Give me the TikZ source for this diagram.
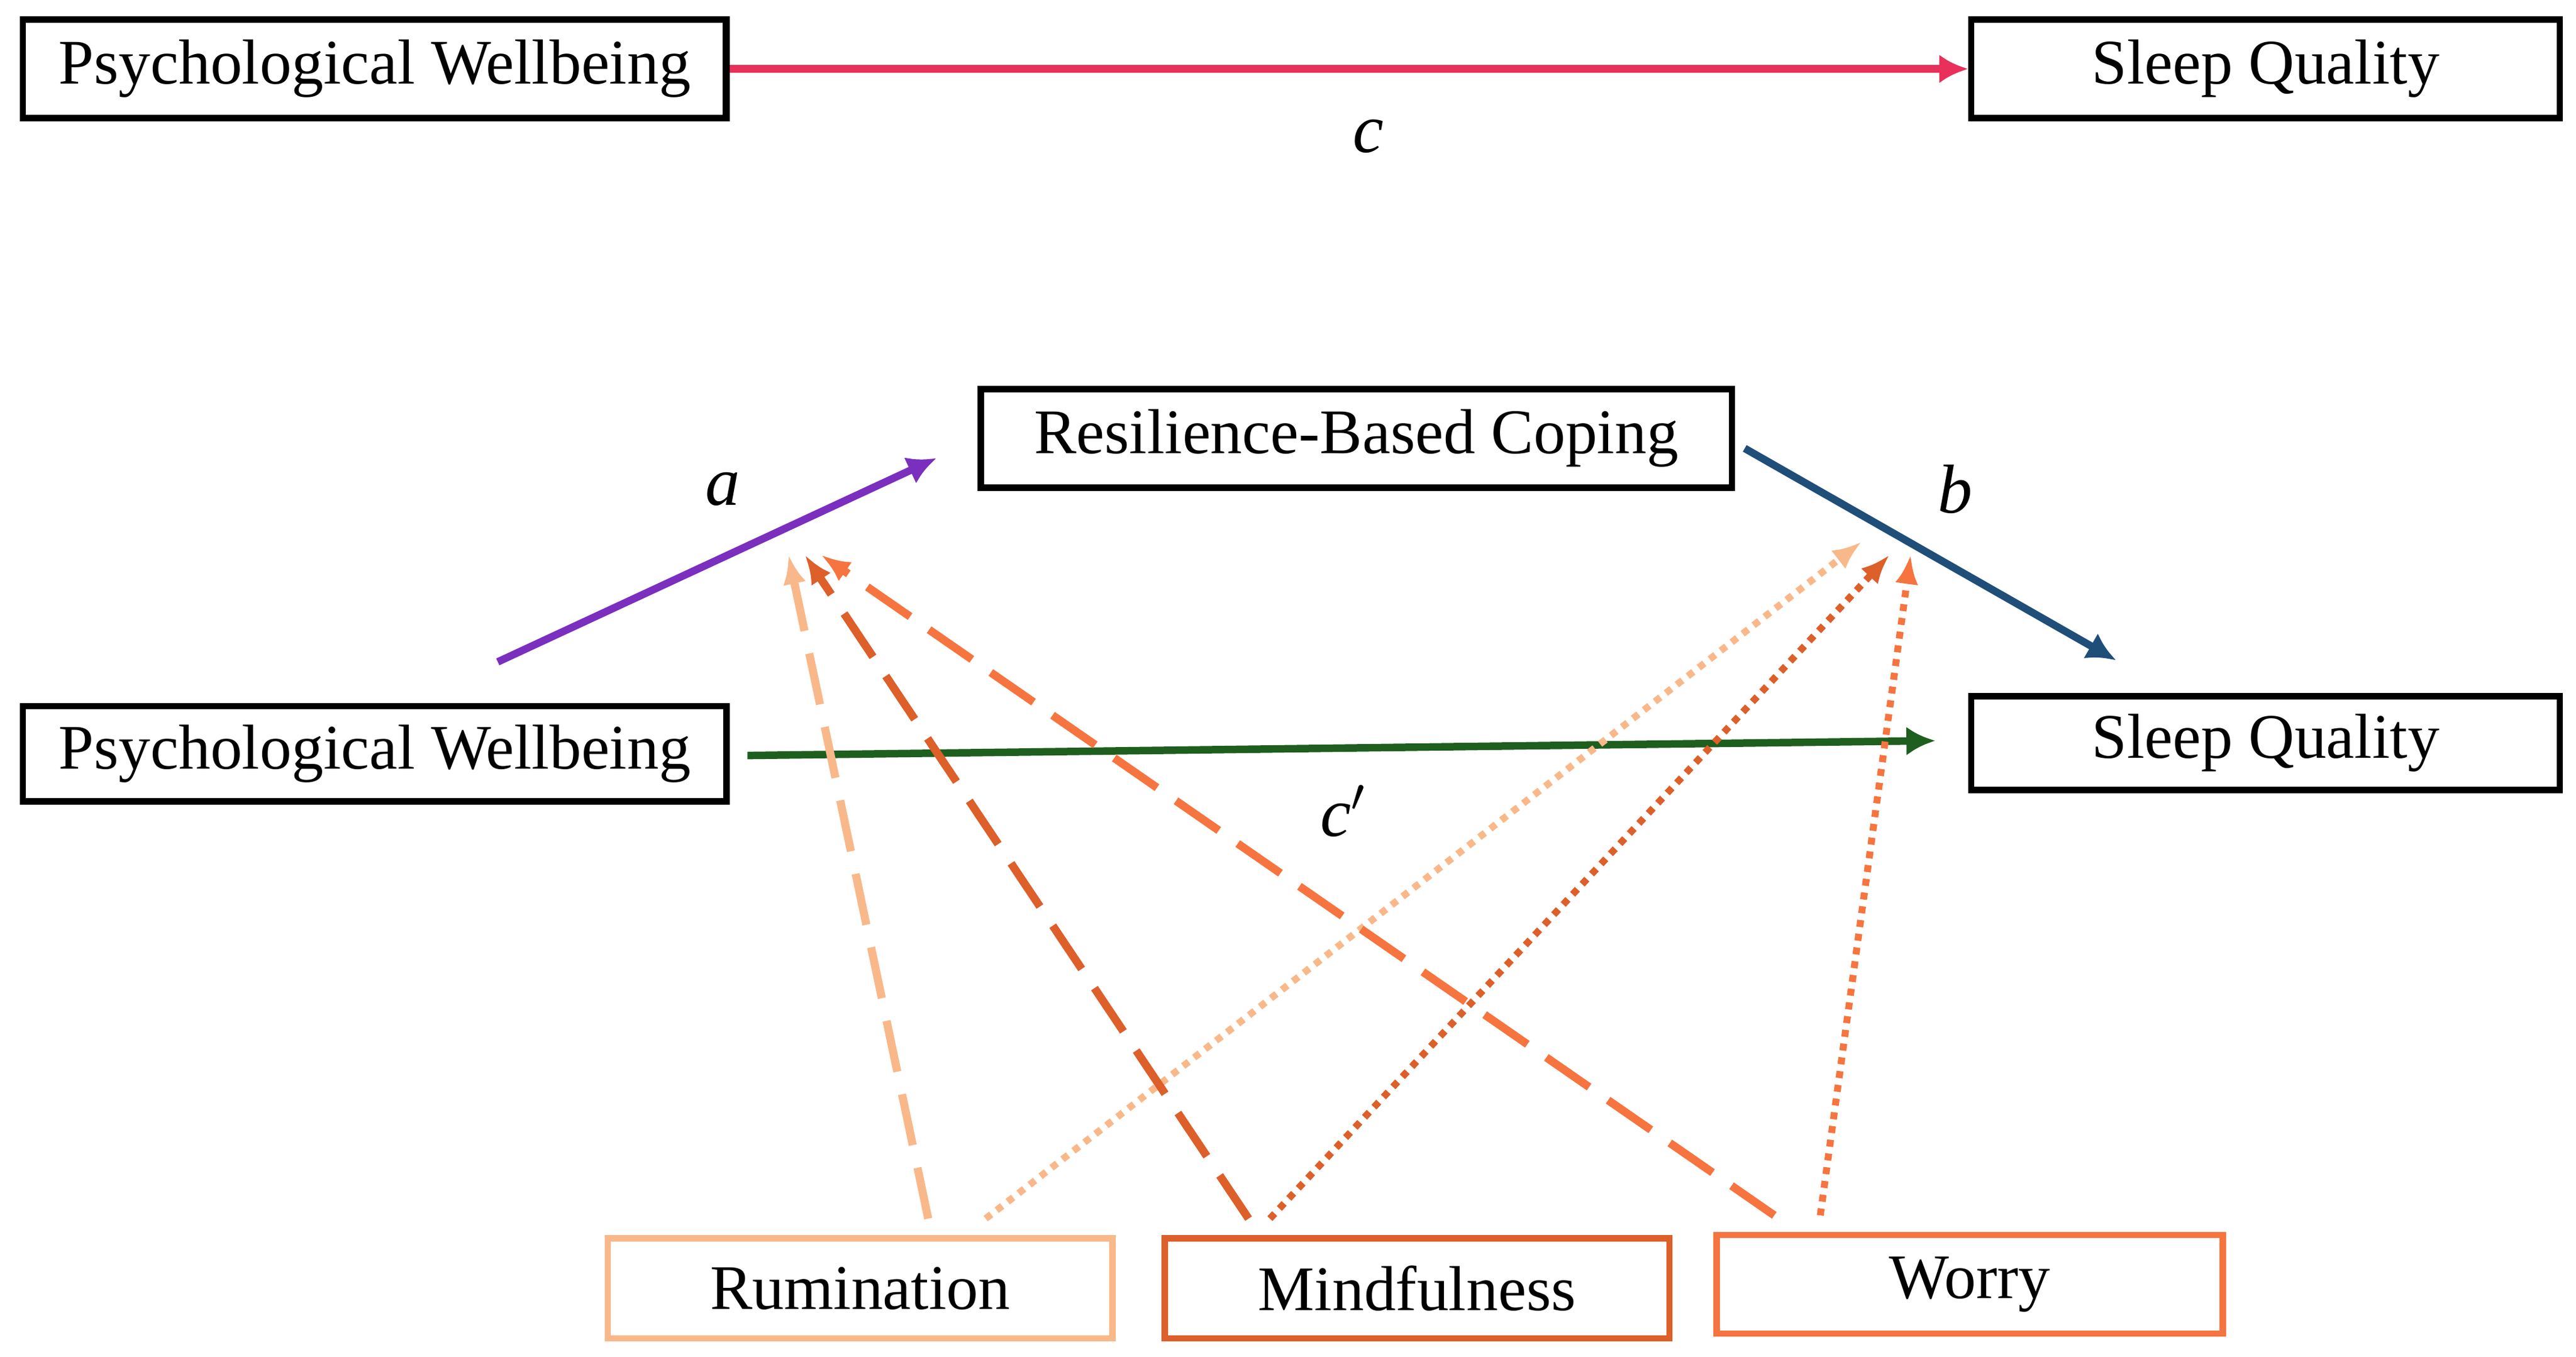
\documentclass[tikz,border=0pt]{standalone}
\usepackage{fontspec}
\setmainfont{Liberation Serif}
\begin{document}
\begin{tikzpicture}[x=0.01cm,y=-0.01cm,
  box/.style={draw,line width=1.1pt,inner sep=0pt,anchor=north west,font=\fontsize{11}{13}\selectfont},
  lab/.style={font=\fontsize{12}{14}\selectfont\itshape},
  arr/.style={line width=1.3pt,-{Latex[length=5pt,width=5pt]}},
  dsh/.style={line width=1.4pt,dash pattern=on 9pt off 4pt,-{Latex[length=5pt,width=4pt]}},
  dot/.style={line width=1.2pt,dash pattern=on 1.2pt off 1.2pt,-{Latex[length=5pt,width=4pt]}}]
\usetikzlibrary{arrows.meta}
\definecolor{cpink}{HTML}{E8305A}
\definecolor{cpurp}{HTML}{7B2FBE}
\definecolor{cblue}{HTML}{1F4E79}
\definecolor{cgreen}{HTML}{1E5E1E}
\definecolor{crum}{HTML}{F9B88A}
\definecolor{cmind}{HTML}{DD5F2A}
\definecolor{cwor}{HTML}{F6743F}
\useasboundingbox (0,0) rectangle (1568,826);
\node[box,minimum width=428\pgflinewidth/\pgflinewidth*0.01cm,minimum height=0.6cm] (pw1) at (12,10) {};
\node[box,minimum width=4.28cm,minimum height=0.6cm] (pw1) at (12,10) {Psychological Wellbeing};
\node[box,minimum width=3.58cm,minimum height=0.6cm] (sq1) at (1198,10) {Sleep Quality};
\node[box,minimum width=4.57cm,minimum height=0.6cm] (rbc) at (595,235) {Resilience-Based Coping};
\node[box,minimum width=4.28cm,minimum height=0.58cm] (pw2) at (12,428) {Psychological Wellbeing};
\node[box,minimum width=3.58cm,minimum height=0.57cm] (sq2) at (1198,422) {Sleep Quality};
\node[box,draw=crum,minimum width=3.07cm,minimum height=0.61cm] (rum) at (368,752) {Rumination};
\node[box,draw=cmind,minimum width=3.07cm,minimum height=0.61cm] (mind) at (707,752) {Mindfulness};
\node[box,draw=cwor,minimum width=3.08cm,minimum height=0.60cm] (wor) at (1043,750) {Worry};
\node[lab] (lc) at (833,83) {c};
\node[lab] (la) at (440,298) {a};
\node[lab] (lb) at (1190,298) {b};
\node[lab] (lcp) at (818,494) {c$'$};
\coordinate (a0) at (303,403); \coordinate (a1) at (570,279);
\coordinate (b0) at (1062,273); \coordinate (b1) at (1288,402);
\coordinate (c0) at (455,460); \coordinate (c1) at (1178,451);
\coordinate (p1) at (480,338); \coordinate (p2) at (490,338); \coordinate (p3) at (500,338);
\coordinate (q1) at (1133,330); \coordinate (q2) at (1150,338); \coordinate (q3) at (1163,338);
\coordinate (r0) at (565,742); \coordinate (r1) at (600,742);
\coordinate (m0) at (760,742); \coordinate (m1) at (773,742);
\coordinate (w0) at (1080,740); \coordinate (w1) at (1108,740);
\draw[arr,cpink] (pw1.east) -- (sq1.west);
\draw[arr,cpurp] (a0) -- (a1);
\draw[arr,cblue] (b0) -- (b1);
\draw[arr,cgreen] (c0) -- (c1);
\draw[dsh,crum] (r0) -- (p1);
\draw[dot,crum] (r1) -- (q1);
\draw[dsh,cmind] (m0) -- (p2);
\draw[dot,cmind] (m1) -- (q2);
\draw[dsh,cwor] (w0) -- (p3);
\draw[dot,cwor] (w1) -- (q3);
\end{tikzpicture}
\end{document}
